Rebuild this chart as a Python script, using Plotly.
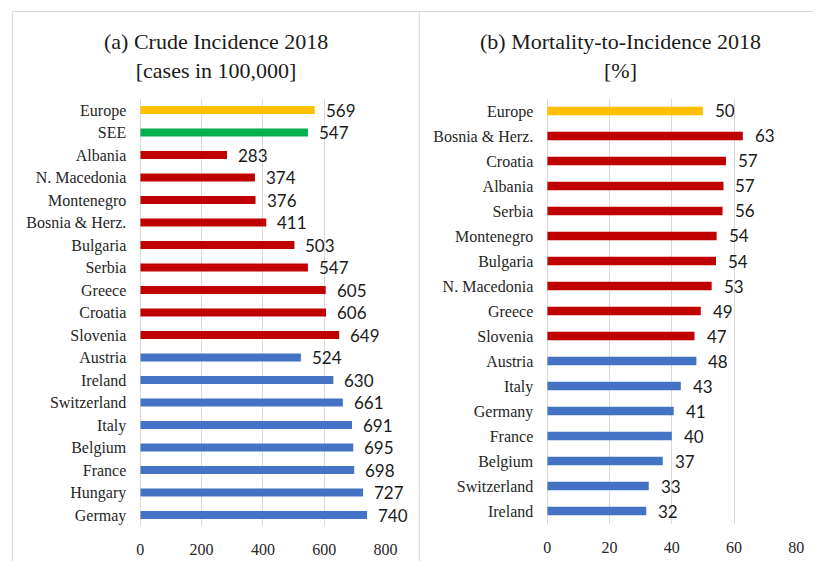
import plotly.graph_objects as go

# ---- Data ----
inc_categories = ["Europe", "SEE", "Albania", "N. Macedonia", "Montenegro", "Bosnia & Herz.",
                  "Bulgaria", "Serbia", "Greece", "Croatia", "Slovenia", "Austria", "Ireland",
                  "Switzerland", "Italy", "Belgium", "France", "Hungary", "Germay"]
inc_values = [569, 547, 283, 374, 376, 411, 503, 547, 605, 606, 649, 524, 630, 661, 691, 695, 698, 727, 740]
inc_groups = ["Europe", "SEE"] + ["SEE country"] * 9 + ["Other"] * 8

mti_categories = ["Europe", "Bosnia & Herz.", "Croatia", "Albania", "Serbia", "Montenegro", "Bulgaria",
                  "N. Macedonia", "Greece", "Slovenia", "Austria", "Italy", "Germany", "France",
                  "Belgium", "Switzerland", "Ireland"]
mti_values = [50.0, 62.8, 57.4, 56.6, 56.3, 54.4, 54.2, 52.8, 49.3, 47.3, 47.9, 42.9, 40.6, 40.0, 37.1, 32.6, 31.8]
mti_groups = ["Europe"] + ["SEE country"] * 9 + ["Other"] * 7

group_colors = {"Europe": "#FFC000", "SEE": "#00B050", "SEE country": "#C00000", "Other": "#4472C4"}

W, H = 825, 561
SERIF = "Liberation Serif"
SANS = "Lato"

fig = go.Figure()

fig.add_trace(go.Bar(
    x=inc_values, y=inc_categories, orientation="h",
    marker=dict(color=[group_colors[g] for g in inc_groups], line=dict(width=0)),
    width=0.35, xaxis="x", yaxis="y", showlegend=False, hoverinfo="x+y",
))
fig.add_trace(go.Bar(
    x=mti_values, y=mti_categories, orientation="h",
    marker=dict(color=[group_colors[g] for g in mti_groups], line=dict(width=0)),
    width=0.34, xaxis="x2", yaxis="y2", showlegend=False, hoverinfo="x+y",
))

annotations = []
for v, c in zip(inc_values, inc_categories):
    annotations.append(dict(x=v, y=c, xref="x", yref="y", text=f"{v:.0f}", showarrow=False,
                            xanchor="left", yanchor="middle", xshift=9,
                            font=dict(family=SANS, size=17, color="#1a1a1a")))
for v, c in zip(mti_values, mti_categories):
    annotations.append(dict(x=v, y=c, xref="x2", yref="y2", text=f"{round(v)}", showarrow=False,
                            xanchor="left", yanchor="middle", xshift=10,
                            font=dict(family=SANS, size=17, color="#1a1a1a")))

annotations.append(dict(x=216 / W, y=1 - 56 / H, xref="paper", yref="paper",
                        text="(a) Crude Incidence 2018<br>[cases in 100,000]", showarrow=False,
                        xanchor="center", yanchor="middle", align="center",
                        font=dict(family=SERIF, size=22, color="#1a1a1a")))
annotations.append(dict(x=629 / W, y=1 - 56 / H, xref="paper", yref="paper",
                        text="(b) Mortality-to-Incidence 2018<br>[%]", showarrow=False,
                        xanchor="center", yanchor="middle", align="center",
                        font=dict(family=SERIF, size=22, color="#1a1a1a")))

border = "#d9d9d9"
shapes = [
    dict(type="line", xref="paper", yref="paper", x0=8.5 / W, x1=1, y0=1 - 11.5 / H, y1=1 - 11.5 / H,
         line=dict(color=border, width=1)),
    dict(type="line", xref="paper", yref="paper", x0=8.5 / W, x1=8.5 / W, y0=0, y1=1 - 11.5 / H,
         line=dict(color=border, width=1)),
    dict(type="line", xref="paper", yref="paper", x0=423.5 / W, x1=423.5 / W, y0=0, y1=1 - 11.5 / H,
         line=dict(color=border, width=1)),
]

grid = "#d9d9d9"
xcommon = dict(showgrid=True, gridcolor=grid, gridwidth=1, zeroline=True, zerolinecolor=grid,
               zerolinewidth=1, showline=False, ticks="", ticklabelstandoff=12,
               tickfont=dict(family=SERIF, size=16, color="#262626"), fixedrange=True)
ycommon = dict(type="category", showgrid=False, zeroline=False, showline=False, ticks="",
               ticklabelstandoff=13, tickfont=dict(family=SERIF, size=16, color="#262626"))

fig.update_layout(
    width=W, height=H,
    margin=dict(l=0, r=0, t=0, b=0),
    paper_bgcolor="white", plot_bgcolor="white",
    xaxis=dict(domain=[139 / W, 389 / W], range=[0, 800], dtick=200, anchor="y", **xcommon),
    yaxis=dict(domain=[1 - 526.25 / H, 1 - 98.75 / H], range=[len(inc_categories) - 0.5, -0.5],
               anchor="x", **ycommon),
    xaxis2=dict(domain=[554 / W, 808 / W], range=[0, 80], dtick=20, anchor="y2", **xcommon),
    yaxis2=dict(domain=[1 - 523.5 / H, 1 - 98.5 / H], range=[len(mti_categories) - 0.5, -0.5],
                anchor="x2", **ycommon),
    annotations=annotations,
    shapes=shapes,
    bargap=0.6,
)

fig.write_html("out.html")
